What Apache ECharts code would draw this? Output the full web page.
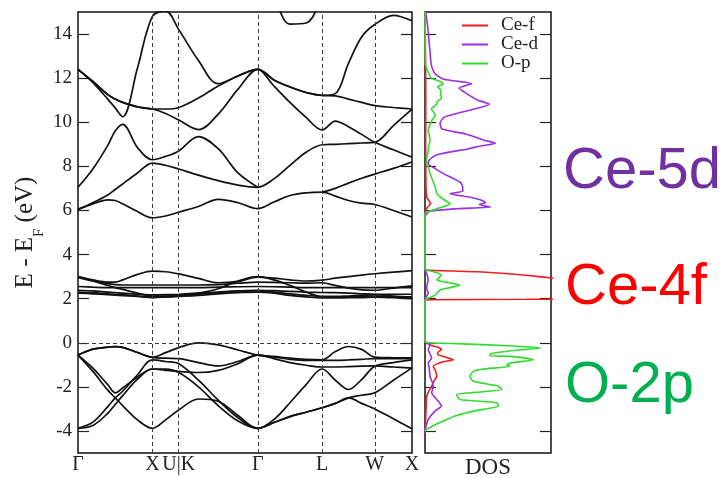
<!DOCTYPE html>
<html>
<head>
<meta charset="utf-8">
<script src="https://cdn.jsdelivr.net/npm/echarts@6/dist/echarts.min.js"></script>
<style>
  html, body { margin: 0; padding: 0; background: #fff; }
  #chart { width: 723px; height: 478px; }
</style>
</head>
<body>
<div id="chart"></div>
<script>
// k-path distance along Γ-X-U|K-Γ-L-W-X (units of 2π/a)
const kPath = [0, 0.2, 0.4, 0.5, 0.6, 0.8, 1.0, 1.177, 1.354, 1.619, 1.884, 2.15, 2.415,
               2.632, 2.848, 3.065, 3.281, 3.458, 3.634, 3.811, 3.988, 4.238, 4.488];
const kTicks = [0, 1.0, 1.354, 2.415, 3.281, 3.988, 4.488];
const kLabels = ['Γ', 'X', 'U|K', 'Γ', 'L', 'W', 'X'];
const energyTicks = [-4, -2, 0, 2, 4, 6, 8, 10, 12, 14];

// O-2p valence bands (eV)
const valenceBands = [
  [-0.56, -0.29, -0.2, -0.18, -0.21, -0.44, -0.66, -0.45, -0.22, -0.01, -0.1, -0.33, -0.56, -0.62, -0.7, -0.75, -0.77, -0.4, -0.17, -0.3, -0.65, -0.68, -0.69],
  [-0.56, -0.29, -0.2, -0.18, -0.21, -0.44, -0.66, -0.7, -0.72, -0.9, -1.05, -0.85, -0.56, -0.65, -0.75, -0.8, -0.8, -0.8, -0.78, -0.75, -0.72, -0.72, -0.72],
  [-3.88, -3.75, -3.2, -2.8, -2.4, -1.65, -1.19, -1.25, -1.3, -1.35, -1.25, -0.95, -0.56, -0.72, -0.9, -1.02, -1.1, -1.1, -1.08, -1.06, -1.05, -1.1, -1.15],
  [-3.88, -3.6, -2.9, -2.5, -2.2, -1.45, -0.78, -0.85, -0.95, -1.7, -2.6, -3.4, -3.88, -3.48, -2.72, -1.9, -1.19, -1.7, -2.12, -1.67, -1.07, -0.9, -0.78],
  [-0.56, -1.15, -1.9, -2.27, -2.05, -1.55, -1.19, -1.2, -1.35, -2.0, -2.85, -3.55, -3.88, -3.62, -3.35, -3.15, -2.95, -2.75, -2.5, -2.38, -2.27, -1.7, -1.14],
  [-0.56, -1.3, -2.15, -2.5, -2.85, -3.5, -3.88, -3.5, -3.05, -2.55, -2.65, -3.3, -3.88, -3.62, -3.35, -3.15, -2.95, -2.75, -2.5, -2.75, -3.0, -3.45, -3.9]
];

// Ce-4f bands (eV)
const fBands = [
  [3.0, 2.85, 2.75, 2.75, 2.85, 3.1, 3.25, 3.22, 3.12, 2.92, 2.72, 2.78, 2.98, 2.93, 2.85, 2.8, 2.84, 2.93, 3.0, 3.07, 3.13, 3.2, 3.27],
  [3.0, 2.8, 2.6, 2.5, 2.42, 2.25, 2.12, 2.12, 2.15, 2.25, 2.45, 2.8, 3.0, 2.85, 2.6, 2.3, 2.08, 2.07, 2.08, 2.1, 2.12, 2.08, 2.05],
  [2.95, 2.8, 2.68, 2.64, 2.62, 2.62, 2.62, 2.62, 2.62, 2.62, 2.64, 2.7, 2.75, 2.74, 2.72, 2.7, 2.72, 2.6, 2.48, 2.4, 2.38, 2.48, 2.58],
  [2.55, 2.52, 2.5, 2.5, 2.5, 2.5, 2.5, 2.5, 2.5, 2.5, 2.52, 2.54, 2.55, 2.54, 2.52, 2.5, 2.5, 2.5, 2.5, 2.5, 2.5, 2.5, 2.5],
  [2.38, 2.35, 2.3, 2.28, 2.25, 2.2, 2.17, 2.18, 2.2, 2.25, 2.3, 2.35, 2.38, 2.36, 2.33, 2.3, 2.28, 2.27, 2.25, 2.22, 2.2, 2.2, 2.2],
  [2.3, 2.27, 2.22, 2.2, 2.18, 2.12, 2.08, 2.1, 2.12, 2.2, 2.28, 2.33, 2.35, 2.3, 2.22, 2.15, 2.1, 2.1, 2.12, 2.15, 2.18, 2.12, 2.08],
  [2.25, 2.22, 2.18, 2.16, 2.14, 2.1, 2.05, 2.07, 2.1, 2.15, 2.22, 2.27, 2.3, 2.25, 2.15, 2.08, 2.03, 2.03, 2.04, 2.05, 2.07, 2.04, 2.0]
];

// Ce-5d conduction bands (eV); null = band piece not drawn there
const conductionBands = [
  [6.05, 6.3, 6.48, 6.45, 6.3, 5.95, 5.67, 5.75, 5.92, 6.18, 6.5, 6.35, 6.08, 6.38, 6.68, 6.8, 6.83, 6.65, 6.45, 6.33, 6.27, 6.0, 5.7],
  [6.05, 6.35, 6.7, 6.95, 7.2, 7.7, 8.15, 8.05, 7.88, 7.6, 7.35, 7.15, 7.05, 7.43, 8.04, 8.64, 8.98, 9.0, 9.03, 9.06, 9.09, 9.85, 10.6],
  [7.05, 7.88, 8.95, 9.6, 9.9, 8.85, 8.3, 8.45, 8.7, 9.35, 8.8, 7.7, 7.05, null, null, null, null, null, null, null, null, null, null],
  [null, null, null, null, null, null, null, null, null, null, null, null, null, null, null, null, 6.83, 7.0, 7.24, 7.46, 7.65, 7.91, 8.2],
  [12.4, 11.85, 11.25, 11.05, 10.9, 10.7, 10.6, 10.6, 10.67, 11.1, 11.64, 12.1, 12.4, 11.92, 11.6, 11.35, 11.22, 11.2, 11.05, 10.9, 10.75, 10.67, 10.6],
  [12.4, 11.85, 11.25, 11.05, 10.9, 10.7, 10.6, 10.4, 10.1, 9.67, 10.37, 11.5, 12.4, 11.65, 10.9, 10.22, 9.65, 10.05, 9.8, 9.45, 9.09, 8.75, 8.41],
  [12.4, 11.8, 11.05, 10.65, 10.25, 12.47, 14.8, 15.05, 14.2, 12.8, 11.75, 12.1, 12.4, 11.92, 11.6, 11.35, 11.22, 11.3, 12.67, 13.87, 14.43, 14.85, 14.6],
  [null, null, null, null, null, null, null, null, null, null, null, null, 17.0, 15.7, 14.45, 14.5, 15.7, 17.0, null, null, null, null, null]
];

// Projected DOS, [energy (eV), DOS (arb. units)]
const dosCeF = [[15,0],[13,0.04],[11,0.06],[9,0.05],[7,0.08],[6.6,0.15],[6.45,0.3],[6.3,0.45],[6.15,0.2],[6.0,0.05],[5.6,0],
  [3.4,0],[3.3,0.1],[3.22,4.1],[3.14,6.4],[3.05,8.2],[2.95,9.9],[2.85,11.5],[2.5,30],[2.05,30],[2.0,20],[1.97,8],[1.95,0.4],[1.9,0],
  [0.06,0],[0,0.2],[-0.1,0.4],[-0.2,1.0],[-0.3,1.32],[-0.45,1.0],[-0.55,1.06],[-0.68,1.8],[-0.77,2.25],[-0.88,1.3],[-1.07,0.66],
  [-1.3,0.85],[-1.52,0.93],[-1.75,0.7],[-1.97,0.53],[-2.2,0.3],[-2.42,0.13],[-3.0,0.08],[-3.9,0.03],[-4.1,0]];
const dosCeD = [[15,0.05],[14.4,0.2],[13.8,0.3],[13.2,0.4],[12.6,0.5],[12.2,0.8],[11.95,1.5],[11.75,3.7],[11.55,2.7],[11.3,3.3],
  [11.0,4.2],[10.82,5.1],[10.6,3.9],[10.45,2.9],[10.22,1.5],[9.95,1.2],[9.69,1.35],[9.46,3.3],[9.2,4.6],[9.05,5.6],[8.92,4.4],
  [8.79,3.4],[8.53,0.95],[8.3,0.35],[8.12,0.25],[7.9,0.8],[7.66,1.5],[7.28,2.8],[7.05,3.0],[6.88,3.0],[6.76,2.0],[6.6,3.6],
  [6.46,4.5],[6.35,4.8],[6.27,4.3],[6.16,5.2],[6.08,2.5],[5.97,0.4],[5.78,0.05],[5.5,0],
  [3.3,0],[3.2,0.1],[2.85,0.26],[2.6,0.15],[2.47,0.13],[2.24,0.26],[2.05,0.05],[1.95,0],
  [0.05,0],[-0.09,0.4],[-0.32,0.26],[-0.69,0.53],[-0.92,0.26],[-1.2,0.35],[-1.52,0.4],[-1.97,0.66],[-2.27,0.53],
  [-2.57,0.93],[-2.87,1.3],[-3.1,0.79],[-3.48,0.26],[-3.93,0.02],[-4.1,0]];
const dosOP = [[15,0],[13,0.02],[12.6,0.05],[12.2,0.3],[12.0,0.5],[11.85,1.2],[11.75,1.45],[11.6,1.0],[11.5,1.2],[11.3,1.25],
  [11.1,1.3],[10.95,1.0],[10.8,0.9],[10.6,0.5],[10.45,0.7],[10.3,0.8],[10.1,0.55],[9.91,0.4],[9.6,0.25],[9.4,0.35],[9.17,0.4],
  [8.95,0.3],[8.71,0.25],[8.4,0.15],[8.26,0.12],[8.0,0.25],[7.66,0.4],[7.3,0.65],[7.06,0.8],[6.85,0.9],[6.68,1.06],[6.45,1.6],
  [6.3,2.0],[6.18,1.5],[6.08,0.93],[5.95,0.3],[5.85,0],
  [3.35,0],[3.3,0.1],[3.2,0.8],[3.07,1.3],[2.95,1.1],[2.85,0.93],[2.75,1.6],[2.62,2.78],[2.5,2.0],[2.39,1.19],[2.28,1.0],
  [2.16,0.8],[2.05,0.4],[2.0,0.13],[1.95,0],
  [0.05,0],[0.0,0.3],[-0.05,3],[-0.15,7],[-0.24,9.2],[-0.35,7],[-0.5,5.2],[-0.59,5.16],[-0.62,6.75],[-0.77,8.6],[-0.9,7],
  [-1.0,6.48],[-1.07,6.75],[-1.2,4.5],[-1.3,3.84],[-1.52,3.57],[-1.75,3.84],[-1.97,5.83],[-2.12,6.1],[-2.25,4],[-2.35,2.51],
  [-2.57,2.78],[-2.72,5.7],[-2.87,5.83],[-3.1,3.84],[-3.3,2.5],[-3.55,1.46],[-3.75,0.7],[-3.93,0.13],[-4.0,0]];

const serif = 'Liberation Serif';
const sans = "'Liberation Sans', Arial, sans-serif";
const kEnd = kTicks[kTicks.length - 1];

const chart = echarts.init(document.getElementById('chart'));

const toPoints = band => kPath.map((k, i) => [k, band[i]]).filter(p => p[1] !== null);
const bandSeries = [...valenceBands, ...fBands, ...conductionBands].map(band => ({
  type: 'line',
  xAxisIndex: 0,
  yAxisIndex: 0,
  data: toPoints(band),
  showSymbol: false,
  smooth: 0.35,
  silent: true,
  lineStyle: { color: '#111', width: 1.7 },
  z: 3
}));

// dashed guides at the high-symmetry points and at the Fermi level
bandSeries[0].markLine = {
  silent: true,
  symbol: ['none', 'none'],
  label: { show: false },
  lineStyle: { color: '#3a3a3a', width: 1, type: [4, 3] },
  data: kTicks.slice(1, -1).map(k => ({ xAxis: k })).concat([{ yAxis: 0 }])
};

const dosLine = (name, pts, color) => ({
  name,
  type: 'line',
  xAxisIndex: 1,
  yAxisIndex: 2,
  data: pts.map(p => [p[1], p[0]]),
  showSymbol: false,
  smooth: 0.2,
  silent: true,
  itemStyle: { color },
  lineStyle: { color, width: 1.6 },
  z: 3
});

const tickStyle = { inside: true, length: 11, customValues: energyTicks, lineStyle: { color: '#222', width: 1.2 } };
const eAxisBase = { type: 'value', min: -5, max: 15, splitLine: { show: false }, axisLine: { show: false } };

chart.setOption({
  animation: false,
  backgroundColor: '#fff',
  grid: [
    { left: 78, top: 12, width: 334, height: 441, outerBoundsMode: 'none', containLabel: false,
      show: true, borderColor: '#111', borderWidth: 1.5, backgroundColor: 'transparent' },
    { left: 425, top: 12, width: 126, height: 441, outerBoundsMode: 'none', containLabel: false,
      show: true, borderColor: '#111', borderWidth: 1.5, backgroundColor: 'transparent' }
  ],
  xAxis: [
    {
      gridIndex: 0, type: 'value', min: 0, max: kEnd,
      axisLine: { show: false }, axisTick: { show: false }, splitLine: { show: false },
      axisLabel: {
        customValues: kTicks,
        showMinLabel: true, showMaxLabel: true,
        formatter: v => kLabels[kTicks.findIndex(t => Math.abs(t - v) < 1e-6)] || '',
        fontFamily: serif, fontSize: 20, color: '#222', margin: 2
      }
    },
    {
      gridIndex: 1, type: 'value', min: 0, max: 10,
      axisLine: { show: false }, axisTick: { show: false }, axisLabel: { show: false }, splitLine: { show: false },
      name: 'DOS', nameLocation: 'middle', nameGap: 3,
      nameTextStyle: { fontFamily: serif, fontSize: 23, color: '#222', verticalAlign: 'top' }
    }
  ],
  yAxis: [
    Object.assign({}, eAxisBase, {
      gridIndex: 0, position: 'left',
      axisTick: tickStyle,
      axisLabel: { customValues: energyTicks, fontFamily: serif, fontSize: 19, color: '#222', margin: 6 },
      name: 'E - E{sub|F} (eV)', nameLocation: 'middle', nameGap: 40, nameRotate: 90,
      nameTextStyle: {
        fontFamily: serif, fontSize: 25, color: '#222',
        rich: { sub: { fontFamily: serif, fontSize: 15, color: '#222', verticalAlign: 'bottom', padding: [0, 0, -9, 0] } }
      }
    }),
    Object.assign({}, eAxisBase, { gridIndex: 0, position: 'right', axisTick: tickStyle, axisLabel: { show: false } }),
    Object.assign({}, eAxisBase, { gridIndex: 1, position: 'left', axisTick: tickStyle, axisLabel: { show: false } }),
    Object.assign({}, eAxisBase, { gridIndex: 1, position: 'right', axisTick: tickStyle, axisLabel: { show: false } })
  ],
  legend: {
    orient: 'vertical', left: 462, top: 16, padding: 0, itemGap: 0,
    itemWidth: 26, itemHeight: 2, icon: 'rect',
    textStyle: { fontFamily: serif, fontSize: 19, color: '#222', lineHeight: 12.5, padding: [0, 0, 0, 8] },
    data: ['Ce-f', 'Ce-d', 'O-p']
  },
  series: [
    ...bandSeries,
    dosLine('Ce-f', dosCeF, '#f01c1c'),
    dosLine('Ce-d', dosCeD, '#9a2fe0'),
    dosLine('O-p', dosOP, '#2fdc2f')
  ],
  graphic: [
    { type: 'text', x: 563, y: 172, style: { text: 'Ce-5d', fill: '#7030A0', font: '58px ' + sans, verticalAlign: 'middle' } },
    { type: 'text', x: 565, y: 288, style: { text: 'Ce-4f', fill: '#FF0000', font: '58px ' + sans, verticalAlign: 'middle' } },
    { type: 'text', x: 565, y: 386, style: { text: 'O-2p', fill: '#00B050', font: '58px ' + sans, verticalAlign: 'middle' } }
  ]
});
</script>
</body>
</html>
